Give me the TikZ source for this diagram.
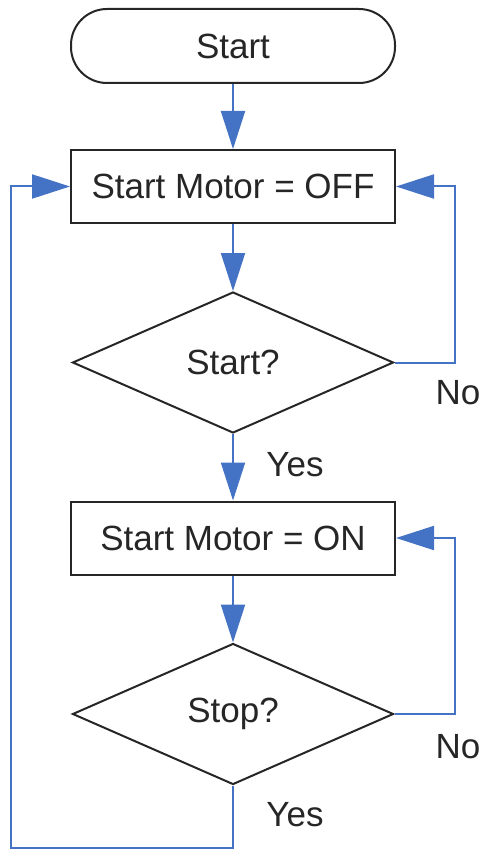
\documentclass[tikz,border=0pt]{standalone}
\usepackage{fontspec}
\setmainfont{Liberation Sans}
\usetikzlibrary{shapes.geometric,arrows.meta}
\definecolor{flowblue}{HTML}{4472C4}
\begin{document}
\begin{tikzpicture}[x=1pt,y=-1pt,
  every node/.style={font=\fontsize{35}{40}\selectfont, text=black!85},
  box/.style={draw=black!85, line width=2pt, minimum width=324pt, minimum height=73pt, inner sep=0pt},
  term/.style={box, rounded corners=36pt, minimum height=74pt},
  dec/.style={draw=black!85, line width=2pt, diamond, shape aspect=2.28, minimum width=321pt, minimum height=141pt, inner sep=0pt},
  flow/.style={draw=flowblue, line width=2pt, -{Triangle[length=38pt,width=24pt]}},
  lbl/.style={inner sep=0pt}]
\useasboundingbox (0,0) rectangle (481,850);
\node[term] (start) at (233,46) {Start};
\node[box] (off) at (233,186.5) {Start Motor = OFF};
\node[dec] (q1) at (233,362.5) {Start?};
\node[box] (on) at (233,538) {Start Motor = ON};
\node[dec] (q2) at (233,714) {Stop?};
\coordinate (rx) at (455,0);
\coordinate (corner) at (11,848);
\draw[flow] (start) -- (off);
\draw[flow] (off) -- (q1);
\draw[flow] (q1) -- (on);
\draw[flow] (on) -- (q2);
\draw[flow] (q1.east) -- (q1.east -| rx) |- (off.east);
\draw[flow] (q2.east) -- (q2.east -| rx) |- (on.east);
\draw[flow] (q2.south) |- (corner) |- (off.west);
\node[lbl] (no1) at (458,393) {No};
\node[lbl] (yes1) at (295,465) {Yes};
\node[lbl] (no2) at (458,747) {No};
\node[lbl] (yes2) at (295,815) {Yes};
\end{tikzpicture}
\end{document}
